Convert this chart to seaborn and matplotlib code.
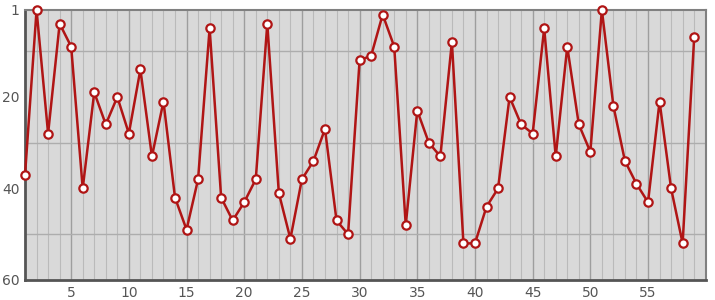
import matplotlib
matplotlib.use("Agg")
import matplotlib.pyplot as plt
from matplotlib.ticker import MultipleLocator, FixedLocator
import seaborn as sns
import pandas as pd

x_values = list(range(1, 60))
y_values = [37, 1, 28, 4, 9, 40, 19, 26, 20, 28,
            14, 33, 21, 42, 49, 38, 5, 42, 47, 43,
            38, 4, 41, 51, 38, 34, 27, 47, 50, 12,
            11, 2, 9, 48, 23, 30, 33, 8, 52, 52,
            44, 40, 20, 26, 28, 5, 33, 9, 26, 32,
            1, 22, 34, 39, 43, 21, 40, 52, 7]
x_ticks = [5, 10, 15, 20, 25, 30, 35, 40, 45, 50, 55]
y_ticks = [1, 20, 40, 60]

sns.set_theme(style="white")
plt.rcParams['font.family'] = ['DejaVu Sans']

df = pd.DataFrame({"x": x_values, "y": y_values})

fig = plt.figure(figsize=(7.15, 3.0), dpi=100)
ax = fig.add_axes([0.035, 0.0667, 0.952, 0.9])
ax.set_facecolor("#d9d9d9")

sns.lineplot(data=df, x="x", y="y", ax=ax, color="#b01515", linewidth=1.8,
             marker="o", markersize=6, markerfacecolor="white",
             markeredgecolor="#b01515", markeredgewidth=1.6, zorder=5,
             clip_on=False)

ax.set_xlim(1, 60)
ax.set_ylim(60, 1)
ax.xaxis.set_major_locator(FixedLocator(x_ticks))
ax.xaxis.set_minor_locator(MultipleLocator(1))
ax.yaxis.set_major_locator(FixedLocator(y_ticks))
ax.yaxis.set_minor_locator(FixedLocator([10, 20, 30, 40, 50]))

ax.grid(which="major", axis="x", color="#9e9e9e", linewidth=1.0)
ax.grid(which="minor", axis="x", color="#bababa", linewidth=0.8)
ax.grid(which="minor", axis="y", color="#adadad", linewidth=1.0)
ax.grid(which="major", axis="y", visible=False)
ax.set_axisbelow(True)

ax.tick_params(which="both", length=0, labelsize=10, labelcolor="#555555", pad=4)
ax.set_xlabel("")
ax.set_ylabel("")

for side in ["left", "bottom"]:
    ax.spines[side].set_color("#555555")
    ax.spines[side].set_linewidth(2.0)
    ax.spines[side].set_zorder(2)
for side in ["top", "right"]:
    ax.spines[side].set_color("#808080")
    ax.spines[side].set_linewidth(1.5)
    ax.spines[side].set_visible(True)
    ax.spines[side].set_zorder(2)

fig.savefig("out.png", dpi=100, facecolor="white")
